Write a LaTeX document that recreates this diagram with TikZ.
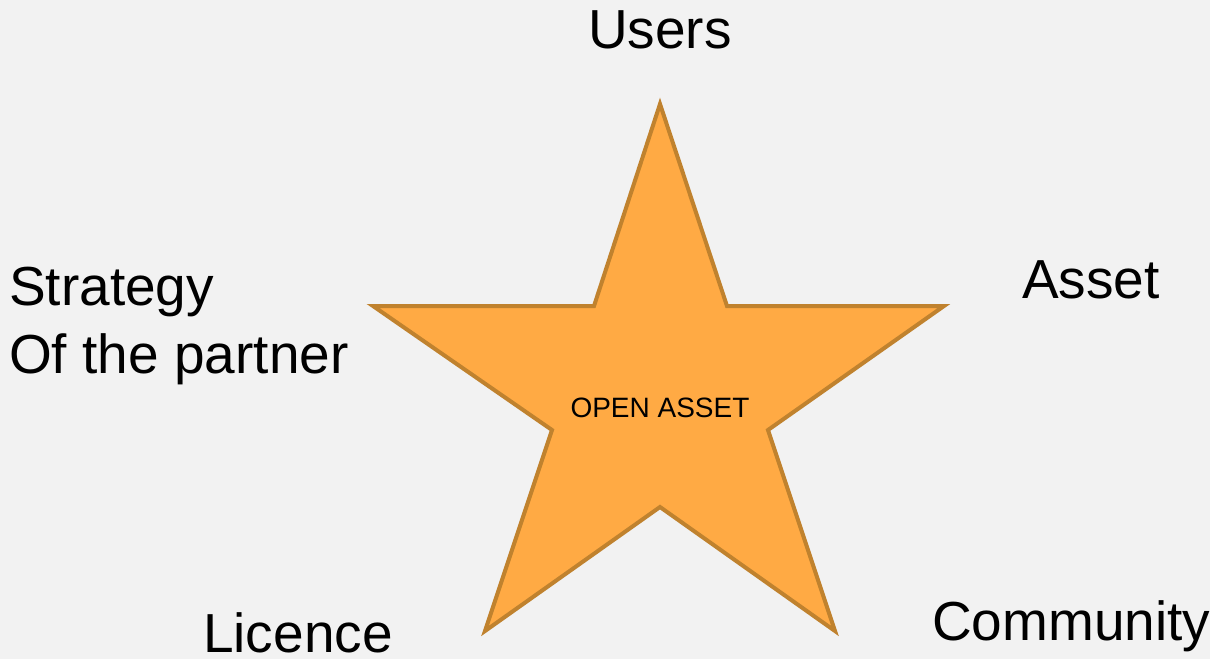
\documentclass[tikz,border=0pt]{standalone}
\usepackage{fontspec}
\setmainfont{Liberation Sans}
\definecolor{bg}{HTML}{F2F2F2}
\definecolor{starfill}{HTML}{FFAA44}
\definecolor{starline}{HTML}{C0822E}
\begin{document}
\begin{tikzpicture}[x=1pt,y=-1pt,
  lbl/.style={inner sep=0pt,font=\fontsize{55}{65}\selectfont,text=black},
  starstyle/.style={fill=starfill,draw=starline,line width=4pt,line join=miter}]
\fill[bg] (0,0) rectangle (1210,659);
\useasboundingbox (0,0) rectangle (1210,659);
\draw[starstyle] (660,104) -- (727,306) -- (944,306) -- (768,430) -- (835,631)
  -- (660,507) -- (485,631) -- (552,430) -- (373,306) -- (594,306) -- cycle;
\node[inner sep=0pt,anchor=base,font=\fontsize{28}{32}\selectfont] (center) at (660,417) {OPEN ASSET};
\node[lbl,anchor=base] (users) at (660,48) {Users};
\node[lbl,anchor=base west] (asset) at (1022,298) {Asset};
\node[lbl,anchor=base west] (strategy) at (9,305) {Strategy};
\node[lbl,anchor=base west] (partner) at (9,373) {Of the partner};
\node[lbl,anchor=base west] (licence) at (203,652) {Licence};
\node[lbl,anchor=base west] (community) at (932,640) {Community};
\end{tikzpicture}
\end{document}
